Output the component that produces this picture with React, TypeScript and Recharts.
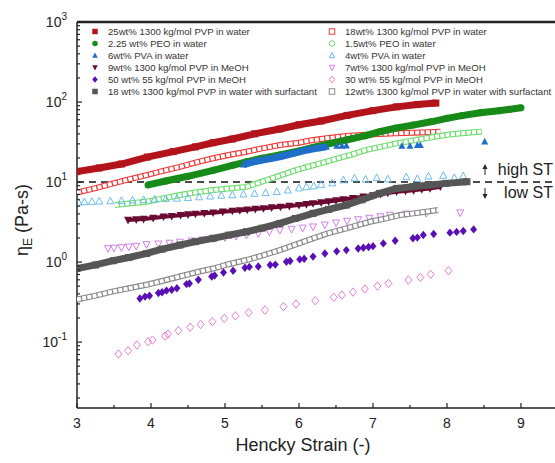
import React from 'react';
import { ScatterChart, Scatter, XAxis, YAxis, ReferenceLine } from 'recharts';

type Pt = [number, number];

// data (x = Hencky strain, y = extensional viscosity, Pa-s)
const pvp25Water: Pt[] = [[3.0,13.5],[3.3,15],[3.6,16.8],[3.95,20.5],[4.3,24],[4.6,27.5],[4.84,31],[5.1,34.5],[5.4,40],[5.74,46],[6.0,52],[6.3,58],[6.65,68],[7.0,78],[7.32,87],[7.6,93],[7.85,97]];
const peo225Water: Pt[] = [[3.96,9.2],[4.2,10.3],[4.5,11.8],[4.84,14],[5.1,16.2],[5.29,17.9],[5.5,19.8],[5.74,21.8],[6.0,24.5],[6.19,27],[6.4,30],[6.64,33.5],[6.9,38],[7.09,42.5],[7.3,47],[7.54,51.5],[7.8,57],[8.0,62.5],[8.2,67.5],[8.45,73.5],[8.7,78],[8.85,81],[9.0,85]];
const pva6Band: Pt[] = [[5.25,16.5],[5.4,18],[5.6,19.5],[5.74,20.7],[5.9,22.5],[6.1,25],[6.25,26.5],[6.37,27.5]];
const pva6Pts: Pt[] = [[6.51,28.2],[6.58,28.2],[6.64,28.5],[7.39,28.2],[7.5,28.2],[7.6,28.8],[7.64,28.8],[8.51,32]];
const pvp9MeOH: Pt[] = [[3.69,3.35],[3.8,3.4],[3.9,3.45],[4.03,3.55],[4.17,3.69],[4.28,3.75],[4.4,3.85],[4.5,3.93],[4.6,4.0],[4.72,4.07],[4.84,4.14],[4.97,4.25],[5.1,4.35],[5.2,4.42],[5.3,4.5],[5.41,4.6],[5.52,4.69],[5.63,4.8],[5.75,4.9],[5.87,5.02],[6.0,5.15],[6.1,5.28],[6.19,5.41],[6.3,5.55],[6.4,5.7],[6.5,5.87],[6.6,6.05],[6.73,6.3],[6.87,6.56],[7.0,6.8],[7.1,7.05],[7.2,7.3],[7.32,7.57],[7.44,7.75],[7.55,7.9],[7.66,8.1],[7.77,8.32],[7.91,8.75]];
const pvp50MeOH: Pt[] = [[3.85,0.35],[3.92,0.37],[3.98,0.38],[4.1,0.41],[4.15,0.42],[4.21,0.44],[4.28,0.45],[4.35,0.47],[4.48,0.53],[4.52,0.54],[4.64,0.6],[4.82,0.66],[4.86,0.68],[4.98,0.74],[5.11,0.78],[5.27,0.85],[5.33,0.87],[5.45,0.88],[5.61,0.92],[5.68,0.93],[5.83,1.01],[5.88,1.03],[6.01,1.08],[6.07,1.1],[6.19,1.17],[6.35,1.28],[6.51,1.36],[6.64,1.41],[6.8,1.48],[6.87,1.51],[6.94,1.54],[7.0,1.58],[7.14,1.71],[7.3,1.85],[7.54,1.98],[7.6,2.02],[7.68,2.18],[7.82,2.24],[8.04,2.33],[8.13,2.38],[8.22,2.44],[8.36,2.56]];
const pvp18Surf: Pt[] = [[3.0,0.83],[3.25,0.92],[3.49,1.04],[3.7,1.14],[3.94,1.28],[4.15,1.45],[4.39,1.63],[4.6,1.8],[4.84,1.98],[5.05,2.17],[5.29,2.39],[5.5,2.65],[5.74,3.04],[5.95,3.5],[6.19,4.06],[6.4,4.55],[6.64,5.16],[6.85,6.0],[7.09,7.21],[7.32,8.32],[7.54,8.75],[7.77,9.17],[7.99,9.62],[8.27,10.1]];
const pvp18Water: Pt[] = [[3.0,7.4],[3.25,8.4],[3.49,9.6],[3.7,10.8],[3.94,12.2],[4.15,13.7],[4.39,15.5],[4.6,17.5],[4.84,19.8],[5.05,21.8],[5.29,23.9],[5.5,26.3],[5.74,29],[6.0,31],[6.19,33.5],[6.4,35.5],[6.64,37.6],[6.9,39],[7.09,39.8],[7.3,40.6],[7.54,41.4],[7.75,42],[7.91,42.6]];
const peo15Water: Pt[] = [[3.51,5.16],[3.7,5.4],[3.94,5.68],[4.15,6.2],[4.39,6.88],[4.6,7.4],[4.84,7.94],[5.05,8.3],[5.29,8.7],[5.5,10.1],[5.74,12.0],[6.0,14.5],[6.3,17.2],[6.5,19.5],[6.7,21.9],[6.9,25.1],[7.1,27.5],[7.3,30.2],[7.54,33],[7.81,36.5],[8.0,38.9],[8.2,40.7],[8.35,42],[8.47,42.6]];
const pva4Water: Pt[] = [[3.02,5.6],[3.1,5.65],[3.2,5.7],[3.3,5.75],[3.45,5.8],[3.6,5.85],[3.75,5.95],[3.9,6.0],[4.05,6.1],[4.2,6.15],[4.35,6.25],[4.5,6.35],[4.65,6.5],[4.8,6.65],[4.95,6.8],[5.1,6.9],[5.25,7.05],[5.4,7.2],[5.55,7.35],[5.7,7.55],[5.85,7.9],[6.0,8.4],[6.1,8.7],[6.2,8.9],[6.3,9.3],[6.45,9.7],[6.6,10.6],[6.75,11.2],[6.9,10.8],[7.05,11.3],[7.2,10.9],[7.45,11.6],[7.6,11.0],[7.75,11.8],[7.95,12.1],[8.1,11.3],[8.22,11.9]];
const pvp7MeOH: Pt[] = [[3.42,1.48],[3.5,1.5],[3.6,1.52],[3.7,1.55],[3.8,1.58],[3.94,1.66],[4.1,1.69],[4.25,1.73],[4.39,1.78],[4.55,1.84],[4.7,1.9],[4.84,1.97],[5.0,2.03],[5.15,2.1],[5.29,2.17],[5.45,2.27],[5.6,2.38],[5.74,2.5],[5.9,2.58],[6.05,2.67],[6.19,2.76],[6.35,2.92],[6.5,3.1],[6.65,3.25],[6.8,3.4],[6.95,3.55],[7.1,3.7],[7.23,3.87],[7.45,4.0],[7.72,4.06],[8.18,4.14]];
const pvp30MeOH: Pt[] = [[3.56,0.071],[3.69,0.078],[3.81,0.092],[3.96,0.101],[4.02,0.106],[4.19,0.119],[4.23,0.126],[4.37,0.139],[4.53,0.153],[4.67,0.166],[4.83,0.18],[4.99,0.198],[5.14,0.213],[5.32,0.233],[5.54,0.251],[5.79,0.277],[5.96,0.299],[6.22,0.329],[6.47,0.362],[6.58,0.387],[6.73,0.422],[6.89,0.46],[7.06,0.501],[7.21,0.541],[7.48,0.596],[7.64,0.643],[7.78,0.701],[8.02,0.779]];
const pvp12Surf: Pt[] = [[3.0,0.34],[3.25,0.38],[3.49,0.43],[3.7,0.47],[3.94,0.52],[4.15,0.58],[4.39,0.66],[4.6,0.74],[4.84,0.83],[5.05,0.94],[5.29,1.06],[5.5,1.2],[5.74,1.41],[5.95,1.65],[6.19,1.98],[6.4,2.3],[6.64,2.64],[6.8,2.9],[6.96,3.19],[7.18,3.51],[7.36,3.87],[7.55,4.06],[7.72,4.26],[7.88,4.47]];

const X_TICKS = [3, 3.5, 4, 4.5, 5, 5.5, 6, 6.5, 7, 7.5, 8, 8.5, 9];
const Y_MAJOR = [0.1, 1, 10, 100, 1000];
const Y_EXP = ['-1', '0', '1', '2', '3'];
const Y_MINOR = [0.02,0.03,0.04,0.05,0.06,0.07,0.08,0.09,0.2,0.3,0.4,0.5,0.6,0.7,0.8,0.9,2,3,4,5,6,7,8,9,20,30,40,50,60,70,80,90,200,300,400,500,600,700,800,900];
const Y_TICKS = [...Y_MINOR, ...Y_MAJOR].sort((a, b) => a - b);
const ST_LINE = 10;

type Kind = 'square' | 'circle' | 'tri' | 'triDown' | 'diamond';
type Style = 'band' | 'chain' | 'dots';
interface Series { name: string; data: Pt[]; extra?: Pt[]; color: string; kind: Kind; filled: boolean; style: Style; size: number; width?: number; }

const col1: Series[] = [
  { name: '25wt% 1300 kg/mol PVP in water', data: pvp25Water, color: '#b3141c', kind: 'square', filled: true, style: 'band', size: 7 },
  { name: '2.25 wt% PEO in water', data: peo225Water, color: '#178a17', kind: 'circle', filled: true, style: 'band', size: 7 },
  { name: '6wt% PVA in water', data: pva6Band, extra: pva6Pts, color: '#1f6fc8', kind: 'tri', filled: true, style: 'band', size: 7 },
  { name: '9wt% 1300 kg/mol PVP in MeOH', data: pvp9MeOH, color: '#6a0a30', kind: 'triDown', filled: true, style: 'band', size: 8, width: 4 },
  { name: '50 wt% 55 kg/mol PVP in MeOH', data: pvp50MeOH, color: '#5a0fb4', kind: 'diamond', filled: true, style: 'dots', size: 7 },
  { name: '18 wt% 1300 kg/mol PVP in water with surfactant', data: pvp18Surf, color: '#565656', kind: 'square', filled: true, style: 'band', size: 7 },
];
const col2: Series[] = [
  { name: '18wt% 1300 kg/mol PVP in water', data: pvp18Water, color: '#ee3a3a', kind: 'square', filled: false, style: 'chain', size: 6 },
  { name: '1.5wt% PEO in water', data: peo15Water, color: '#6edc6e', kind: 'circle', filled: false, style: 'chain', size: 6 },
  { name: '4wt% PVA in water', data: pva4Water, color: '#6cbcee', kind: 'tri', filled: false, style: 'dots', size: 7 },
  { name: '7wt% 1300 kg/mol PVP in MeOH', data: pvp7MeOH, color: '#d27ee8', kind: 'triDown', filled: false, style: 'dots', size: 7 },
  { name: '30 wt% 55 kg/mol PVP in MeOH', data: pvp30MeOH, color: '#e67fd0', kind: 'diamond', filled: false, style: 'dots', size: 7 },
  { name: '12wt% 1300 kg/mol PVP in water with surfactant', data: pvp12Surf, color: '#8a8a8a', kind: 'square', filled: false, style: 'chain', size: 6 },
];

const font = '"Liberation Sans", Arial, sans-serif';
const toXY = (d: Pt[]) => d.map(([x, y]) => ({ x, y }));

function Mark({ cx, cy, kind, color, filled, size }: { cx: number; cy: number; kind: Kind; color: string; filled: boolean; size: number }) {
  if (cx == null || cy == null) return <g />;
  const r = size / 2;
  const p = { fill: filled ? color : 'none', stroke: color, strokeWidth: filled ? 0 : 1 };
  if (kind === 'square') return <rect x={cx - r} y={cy - r} width={size} height={size} {...p} />;
  if (kind === 'circle') return <circle cx={cx} cy={cy} r={r} {...p} />;
  if (kind === 'tri') return <polygon points={`${cx},${cy - r * 1.1} ${cx + r},${cy + r * 0.8} ${cx - r},${cy + r * 0.8}`} {...p} />;
  if (kind === 'triDown') return <polygon points={`${cx},${cy + r * 1.1} ${cx + r},${cy - r * 0.8} ${cx - r},${cy - r * 0.8}`} {...p} />;
  return <polygon points={`${cx},${cy - r * 1.2} ${cx + r},${cy} ${cx},${cy + r * 1.2} ${cx - r},${cy}`} {...p} />;
}

const none = () => <g />;

function renderSeries(s: Series, i: number) {
  const data = toXY(s.data);
  const marker = (p: any) => <Mark cx={p.cx} cy={p.cy} kind={s.kind} color={s.color} filled={s.filled} size={s.size} />;
  const out: React.ReactNode[] = [];
  if (s.style === 'band') {
    out.push(<Scatter key={`${i}b`} data={data} line={{ stroke: s.color, strokeWidth: s.width ?? 7 }} lineType="joint" shape={marker} isAnimationActive={false} />);
  } else if (s.style === 'chain') {
    out.push(<Scatter key={`${i}o`} data={data} line={{ stroke: s.color, strokeWidth: 6 }} lineType="joint" shape={none} isAnimationActive={false} />);
    out.push(<Scatter key={`${i}w`} data={data} line={{ stroke: '#fff', strokeWidth: 3.8, strokeDasharray: '4 1.3' }} lineType="joint" shape={none} isAnimationActive={false} />);
  } else {
    out.push(<Scatter key={`${i}d`} data={data} shape={marker} isAnimationActive={false} />);
  }
  if (s.extra) out.push(<Scatter key={`${i}e`} data={toXY(s.extra)} shape={marker} isAnimationActive={false} />);
  return out;
}

const XTick = (props: any) => {
  const { x, y, payload } = props;
  const major = Number.isInteger(payload.value);
  return (
    <g>
      <line x1={x} y1={y} x2={x} y2={y - (major ? 5 : 3)} stroke="#222" strokeWidth={1.2} />
      {major && <text x={x} y={y + 20} textAnchor="middle" fontSize={14} fontFamily={font} fill="#222">{payload.value}</text>}
    </g>
  );
};

const YTick = (props: any) => {
  const { x, y, payload } = props;
  const idx = Y_MAJOR.indexOf(payload.value);
  const major = idx >= 0;
  return (
    <g>
      <line x1={x} y1={y} x2={x + (major ? 5 : 3)} y2={y} stroke="#222" strokeWidth={1.2} />
      {major && (
        <text x={x - 10} y={y + 5} textAnchor="end" fontSize={14} fontFamily={font} fill="#222">
          10<tspan dy={-7} fontSize={10}>{Y_EXP[idx]}</tspan>
        </text>
      )}
    </g>
  );
};

export default function App() {
  return (
    <div style={{ position: 'fixed', left: 8, top: 8, width: 547, height: 455, overflow: 'hidden', background: '#fff' }}>
      <style>{'html,body{overflow:hidden}'}</style>
      <ScatterChart width={547} height={447} margin={{ top: 14, right: 0, bottom: 17, left: 9 }}>
        <XAxis type="number" dataKey="x" domain={[3, 9.46]} ticks={X_TICKS} interval={0} allowDataOverflow
          tick={<XTick />} tickLine={false} tickSize={0} tickMargin={0} height={30} axisLine={{ stroke: '#222', strokeWidth: 1.5 }} />
        <YAxis type="number" dataKey="y" scale="log" domain={[0.015, 1000]} ticks={Y_TICKS} interval={0} allowDataOverflow
          tick={<YTick />} tickLine={false} tickSize={0} tickMargin={0} width={60} axisLine={{ stroke: '#222', strokeWidth: 1.5 }} />
        <ReferenceLine y={1000} stroke="#222" strokeWidth={2.5} />
        <ReferenceLine y={ST_LINE} stroke="#111" strokeWidth={1.5} strokeDasharray="7 5" />
        {col2.map((s, i) => renderSeries(s, i + 10))}
        {col1.map((s, i) => renderSeries(s, i))}
      </ScatterChart>
      <svg width={547} height={455} style={{ position: 'absolute', left: 0, top: 0, pointerEvents: 'none' }}>
        {[col1, col2].map((col, c) =>
          col.map((s, r) => {
            const mx = c === 0 ? 87 : 324;
            const y = 23.5 + r * 12;
            return (
              <g key={`${c}-${r}`}>
                <Mark cx={mx} cy={y} kind={s.kind} color={s.color} filled={s.filled} size={5.5} />
                <text x={mx + 13} y={y + 3.5} fontSize={9.6} fontFamily={font} fill="#333">{s.name}</text>
              </g>
            );
          })
        )}
        <g fontFamily={font} fill="#222">
          <line x1={477} y1={167} x2={477} y2={158} stroke="#222" strokeWidth={1} />
          <polygon points="477,156 474.5,161 479.5,161" fill="#222" />
          <text x={545} y={167} fontSize={16} textAnchor="end">high ST</text>
          <line x1={477} y1={180} x2={477} y2={189} stroke="#222" strokeWidth={1} />
          <polygon points="477,191 474.5,186 479.5,186" fill="#222" />
          <text x={545} y={190} fontSize={16} textAnchor="end">low ST</text>
          <text x={295} y={443} textAnchor="middle" fontSize={18}>Hencky Strain (-)</text>
          <text x={20} y={212} textAnchor="middle" fontSize={18} transform="rotate(-90, 20, 212)">
            η<tspan dy={4} fontSize={12}>E</tspan><tspan dy={-4}> (Pa-s)</tspan>
          </text>
        </g>
      </svg>
    </div>
  );
}
